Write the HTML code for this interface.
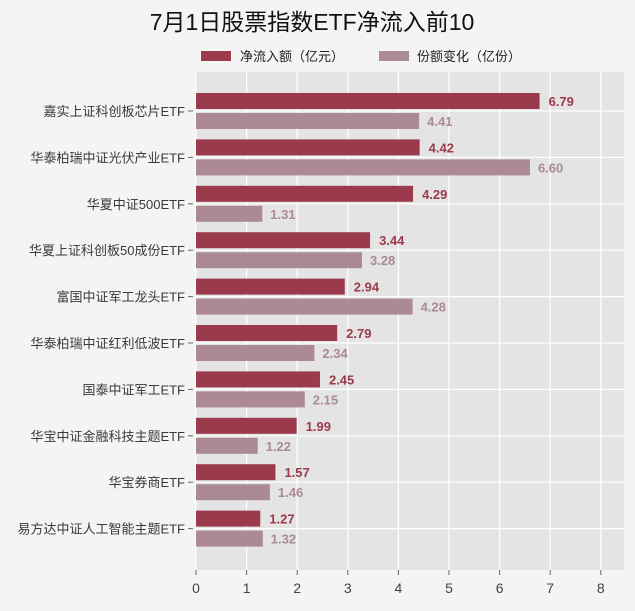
<!DOCTYPE html>
<html><head><meta charset="utf-8"><style>
body{margin:0;background:#f4f4f4;font-family:"Liberation Sans","Noto Sans CJK SC",sans-serif;}
svg text{font-family:"Liberation Sans","Noto Sans CJK SC",sans-serif;}
</style></head><body>
<svg id="c" width="635" height="606">
<text x="312" y="30" text-anchor="middle" font-size="23" fill="#111">7月1日股票指数ETF净流入前10</text>
<g>
<rect x="201" y="51" width="30" height="10" fill="#9b3a4c"/>
<text x="240" y="61" font-size="13" fill="#222">净流入额（亿元）</text>
<rect x="379" y="51" width="30" height="10" fill="#ab8a93"/>
<text x="417" y="61" font-size="13" fill="#222">份额变化（亿份）</text>
</g>
<rect x="196" y="72" width="428" height="498" fill="#e4e4e4"/>
<g id="g"></g>
</svg>
<script>
const categories=["嘉实上证科创板芯片ETF","华泰柏瑞中证光伏产业ETF","华夏中证500ETF","华夏上证科创板50成份ETF","富国中证军工龙头ETF","华泰柏瑞中证红利低波ETF","国泰中证军工ETF","华宝中证金融科技主题ETF","华宝券商ETF","易方达中证人工智能主题ETF"];
const netInflow=[6.79,4.42,4.29,3.44,2.94,2.79,2.45,1.99,1.57,1.27];
const shareChange=[4.41,6.60,1.31,3.28,4.28,2.34,2.15,1.22,1.46,1.32];
const xTicks=[0,1,2,3,4,5,6,7,8];
const NS="http://www.w3.org/2000/svg",g=document.getElementById('g');
const x=v=>196+v*50.6, yc=i=>111+i*46.4;
function mk(t,a,txt){const e=document.createElementNS(NS,t);for(const k in a)e.setAttribute(k,a[k]);if(txt!=null)e.textContent=txt;g.appendChild(e);return e;}
xTicks.forEach(t=>{
 let e=mk('line',{x1:x(t),x2:x(t),y1:72,y2:570,stroke:'#fff','stroke-width':1.2});
 
 
 e=mk('line',{x1:x(t),x2:x(t),y1:570,y2:575,stroke:'#666'});
 
 
 e=mk('text',{x:x(t),y:593,'text-anchor':'middle','font-size':14,fill:'#444'},t);
 
 
});
categories.forEach((c,i)=>{
 let e=mk('line',{x1:196,x2:624,y1:yc(i),y2:yc(i),stroke:'#fff','stroke-width':1.2});
 
 
 e=mk('line',{x1:188,x2:193,y1:yc(i),y2:yc(i),stroke:'#666'});
 
 
 e=mk('text',{x:185,y:yc(i)+5,'text-anchor':'end','font-size':13,fill:'#3a3a3a'},c);
 
 
});
categories.forEach((c,i)=>{
 let e=mk('rect',{x:196,y:yc(i)-18,width:x(netInflow[i])-196,height:16,fill:'#9b3a4c'});
 
 
 e=mk('text',{x:x(netInflow[i])+9,y:yc(i)-5,'font-size':13,'font-weight':'bold',fill:'#9b3a4c'},netInflow[i].toFixed(2));
 
 
 e=mk('rect',{x:196,y:yc(i)+2,width:x(shareChange[i])-196,height:16,fill:'#ab8a93'});
 
 
 e=mk('text',{x:x(shareChange[i])+8,y:yc(i)+15,'font-size':13,'font-weight':'bold',fill:'#ab8a93'},shareChange[i].toFixed(2));
 
 
});
</script>
</body></html>
